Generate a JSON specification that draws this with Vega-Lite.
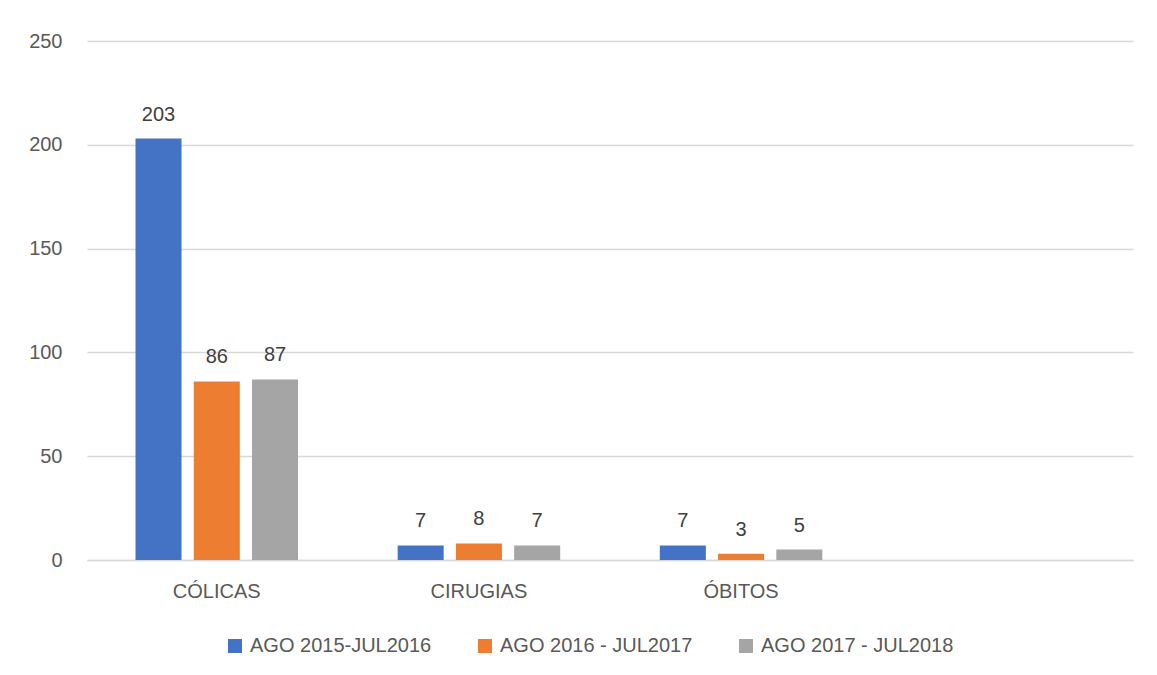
{
  "$schema": "https://vega.github.io/schema/vega-lite/v6.json",
  "autosize": {"type": "none"},
  "width": 1046,
  "height": 519,
  "padding": {"left": 87, "top": 41, "right": 24, "bottom": 115},
  "background": "white",
  "config": {
    "view": {"stroke": null},
    "font": "Liberation Sans"
  },
  "data": {
    "values": [
      {"categoria": "CÓLICAS", "periodo": "AGO 2015-JUL2016", "valor": 203},
      {"categoria": "CÓLICAS", "periodo": "AGO 2016 - JUL2017", "valor": 86},
      {"categoria": "CÓLICAS", "periodo": "AGO 2017 - JUL2018", "valor": 87},
      {"categoria": "CIRUGIAS", "periodo": "AGO 2015-JUL2016", "valor": 7},
      {"categoria": "CIRUGIAS", "periodo": "AGO 2016 - JUL2017", "valor": 8},
      {"categoria": "CIRUGIAS", "periodo": "AGO 2017 - JUL2018", "valor": 7},
      {"categoria": "ÓBITOS", "periodo": "AGO 2015-JUL2016", "valor": 7},
      {"categoria": "ÓBITOS", "periodo": "AGO 2016 - JUL2017", "valor": 3},
      {"categoria": "ÓBITOS", "periodo": "AGO 2017 - JUL2018", "valor": 5}
    ]
  },
  "encoding": {
    "x": {
      "field": "categoria",
      "type": "nominal",
      "sort": null,
      "title": null,
      "scale": {"domain": ["CÓLICAS", "CIRUGIAS", "ÓBITOS", ""], "paddingInner": 0.38, "paddingOuter": 0.185},
      "axis": {
        "labelAngle": 0,
        "ticks": false,
        "labelPadding": 21,
        "labelFontSize": 20,
        "labelColor": "#595959",
        "labelFont": "Liberation Sans",
        "domainColor": "#D9D9D9",
        "domainWidth": 1.5,
        "grid": false
      }
    },
    "xOffset": {
      "field": "periodo",
      "type": "nominal",
      "sort": null,
      "scale": {"paddingInner": 0.21, "paddingOuter": 0}
    },
    "y": {
      "field": "valor",
      "type": "quantitative",
      "title": null,
      "scale": {"domain": [0, 250], "nice": false},
      "axis": {
        "values": [0, 50, 100, 150, 200, 250],
        "ticks": false,
        "domain": false,
        "labelPadding": 25,
        "labelFontSize": 20,
        "labelColor": "#595959",
        "labelFont": "Liberation Sans",
        "gridColor": "#D9D9D9",
        "gridWidth": 1.5
      }
    }
  },
  "layer": [
    {
      "mark": {"type": "bar"},
      "encoding": {
        "color": {
          "field": "periodo",
          "type": "nominal",
          "sort": null,
          "scale": {
            "domain": ["AGO 2015-JUL2016", "AGO 2016 - JUL2017", "AGO 2017 - JUL2018"],
            "range": ["#4472C4", "#ED7D31", "#A5A5A5"]
          },
          "legend": {
            "title": null,
            "orient": "none",
            "direction": "horizontal",
            "legendX": 138,
            "legendY": 595,
            "symbolType": "square",
            "symbolSize": 196,
            "symbolStrokeWidth": 0,
            "labelFontSize": 20,
            "labelColor": "#595959",
            "labelFont": "Liberation Sans",
            "labelOffset": 5,
            "columnPadding": 43,
            "labelLimit": 300
          }
        }
      }
    },
    {
      "mark": {"type": "text", "baseline": "alphabetic", "dy": -18, "fontSize": 20, "color": "#404040", "font": "Liberation Sans"},
      "encoding": {
        "text": {"field": "valor", "type": "quantitative"}
      }
    }
  ]
}
